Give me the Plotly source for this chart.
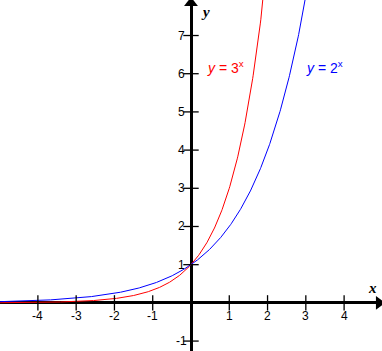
import numpy as np
import plotly.graph_objects as go

# Data
bases = [3, 2]
colors = ["#ff0000", "#0000ff"]
label_texts = ["<i>y</i> = 3<sup>x</sup>", "<i>y</i> = 2<sup>x</sup>"]
label_x = [0.9, 3.5]
label_y = [6.18, 6.18]
x_samples = np.linspace(-5, 5, 801)
x_ticks = [-4, -3, -2, -1, 1, 2, 3, 4]
y_ticks = [-1, 1, 2, 3, 4, 5, 6, 7]

X_RANGE = [-4.99, 4.99]
Y_RANGE = [-1.26, 7.93]

fig = go.Figure()

for b, c in zip(bases, colors):
    fig.add_trace(go.Scatter(x=x_samples, y=np.power(float(b), x_samples), mode="lines",
                             line=dict(color=c, width=1), hoverinfo="skip", showlegend=False))

# tick marks
fig.add_trace(go.Scatter(x=x_ticks, y=[0]*len(x_ticks), mode="markers",
                         marker=dict(symbol="line-ns-open", size=11, color="black",
                                     line=dict(color="black", width=1.3)),
                         showlegend=False, hoverinfo="skip"))
fig.add_trace(go.Scatter(x=[0]*len(y_ticks), y=y_ticks, mode="markers",
                         marker=dict(symbol="line-ew-open", size=11, color="black",
                                     line=dict(color="black", width=1.3)),
                         showlegend=False, hoverinfo="skip"))
# arrowheads
fig.add_trace(go.Scatter(x=[0], y=[Y_RANGE[1] - 0.08], mode="markers",
                         marker=dict(symbol="triangle-up", size=12, color="black"),
                         showlegend=False, hoverinfo="skip"))
fig.add_trace(go.Scatter(x=[X_RANGE[1] - 0.08], y=[0], mode="markers",
                         marker=dict(symbol="triangle-right", size=12, color="black"),
                         showlegend=False, hoverinfo="skip"))

annotations = []
for v in x_ticks:
    annotations.append(dict(x=v, y=0, text=str(v), showarrow=False, yshift=-13,
                            font=dict(family="Liberation Sans, Arial", size=12, color="black")))
for v in y_ticks:
    annotations.append(dict(x=0, y=v, text=str(v), showarrow=False, xshift=-10,
                            font=dict(family="Liberation Sans, Arial", size=12, color="black")))
for t, xx, yy, c in zip(label_texts, label_x, label_y, colors):
    annotations.append(dict(x=xx, y=yy, text=t, showarrow=False,
                            font=dict(family="Liberation Sans, Arial", size=14, color=c)))
annotations.append(dict(x=0.37, y=7.62, text="<b><i>y</i></b>", showarrow=False,
                        font=dict(family="Liberation Serif, Times New Roman", size=15, color="black")))
annotations.append(dict(x=4.73, y=0.39, text="<b><i>x</i></b>", showarrow=False,
                        font=dict(family="Liberation Serif, Times New Roman", size=15, color="black")))

fig.update_layout(
    width=382, height=351,
    margin=dict(l=0, r=0, t=0, b=0),
    paper_bgcolor="white", plot_bgcolor="white",
    xaxis=dict(range=X_RANGE, showgrid=False, showticklabels=False, ticks="",
               zeroline=True, zerolinecolor="black", zerolinewidth=3, fixedrange=True),
    yaxis=dict(range=Y_RANGE, showgrid=False, showticklabels=False, ticks="",
               zeroline=True, zerolinecolor="black", zerolinewidth=3, fixedrange=True),
    annotations=annotations,
)

fig.write_html("out.html")
